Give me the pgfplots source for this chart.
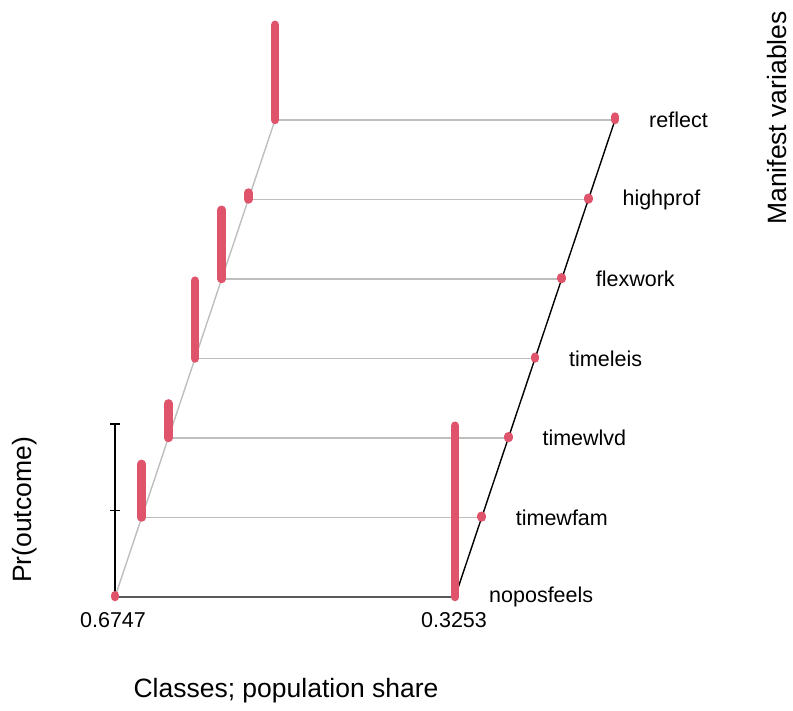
\documentclass[border=0pt]{standalone}
\usepackage{fontspec}
\setmainfont{Liberation Sans}
\usepackage{pgfplots}
\usepackage{pgfplotstable}
\pgfplotsset{compat=1.18}

\definecolor{barred}{HTML}{DF536B}
\definecolor{gridgray}{HTML}{BEBEBE}

% Class-conditional response probabilities: class (0/1), variable index, Pr(outcome)
\pgfplotstableread{
cls var prob
0 0 0.01
0 0 0
nan nan nan
0 1 0
0 1 0.31
nan nan nan
0 2 0
0 2 0.20
nan nan nan
0 3 0
0 3 0.45
nan nan nan
0 4 0
0 4 0.40
nan nan nan
0 5 0
0 5 0.04
nan nan nan
0 6 0
0 6 0.55
nan nan nan
1 0 0
1 0 0.99
nan nan nan
1 1 0
1 1 0.01
nan nan nan
1 2 0
1 2 0.01
nan nan nan
1 3 0
1 3 0.01
nan nan nan
1 4 0
1 4 0.01
nan nan nan
1 5 0
1 5 0.01
nan nan nan
1 6 0
1 6 0.02
}\probtable

\newcommand{\lblfont}{\fontsize{21.5pt}{26pt}\selectfont}
\newcommand{\ttlfont}{\fontsize{26.5pt}{32pt}\selectfont}

\begin{document}
\begin{tikzpicture}
\useasboundingbox (0,0) rectangle (793pt,-711pt);
\begin{axis}[
  at={(115pt,-597pt)}, anchor=origin,
  disabledatascaling,
  x={(340pt,0pt)}, y={(26.67pt,79.5pt)}, z={(0pt,173pt)},
  xmin=0, xmax=1, ymin=0, ymax=6, zmin=0, zmax=1,
  hide axis, clip=false,
]
% depth grid: class-1 edge and one line per variable
\addplot3[gridgray, line width=1.4pt, mark=none] coordinates {(0,0,0) (0,6,0)};
\addplot3[gridgray, line width=1.4pt, mark=none, unbounded coords=jump] coordinates {
  (0,1,0) (1,1,0) (nan,nan,nan)
  (0,2,0) (1,2,0) (nan,nan,nan)
  (0,3,0) (1,3,0) (nan,nan,nan)
  (0,4,0) (1,4,0) (nan,nan,nan)
  (0,5,0) (1,5,0) (nan,nan,nan)
  (0,6,0) (1,6,0)};
% front and right edges
\addplot3[black, line width=1.4pt, mark=none] coordinates {(0,0,0) (1,0,0) (1,6,0)};
% probability axis with ticks at 0, 0.5, 1
\addplot3[black, line width=1.4pt, mark=none] coordinates {(0,0,0) (0,0,1)};
\addplot3[black, line width=1.4pt, mark=none, unbounded coords=jump] coordinates {
  (-0.0147,0,0.5) (0.0147,0,0.5) (nan,nan,nan)
  (-0.0147,0,1) (0.0147,0,1)};
% bars
\addplot3[barred, line width=8.5pt, line cap=round, mark=none, unbounded coords=jump]
  table[x=cls, y=var, z=prob] {\probtable};

% labels
\node[font=\lblfont, anchor=north, inner sep=0pt] at (axis cs:0,0,0) [yshift=-15pt, xshift=-2pt] {0.6747};
\node[font=\lblfont, anchor=north, inner sep=0pt] at (axis cs:1,0,0) [yshift=-15pt, xshift=-1pt] {0.3253};
\foreach \v/\name in {0/noposfeels,1/timewfam,2/timewlvd,3/timeleis,4/flexwork,5/highprof,6/reflect}{
  \edef\tmp{\noexpand\node[font=\noexpand\lblfont, anchor=west, inner sep=0pt, xshift=34pt] at (axis cs:1,\v,0) {\name};}
  \tmp
}
\end{axis}
\node[font=\ttlfont, rotate=90] at (25pt,-510pt) {Pr(outcome)};
\node[font=\ttlfont, rotate=90] at (777pt,-118pt) {Manifest variables};
\node[font=\ttlfont] at (286pt,-691pt) {Classes; population share};
\end{tikzpicture}
\end{document}
